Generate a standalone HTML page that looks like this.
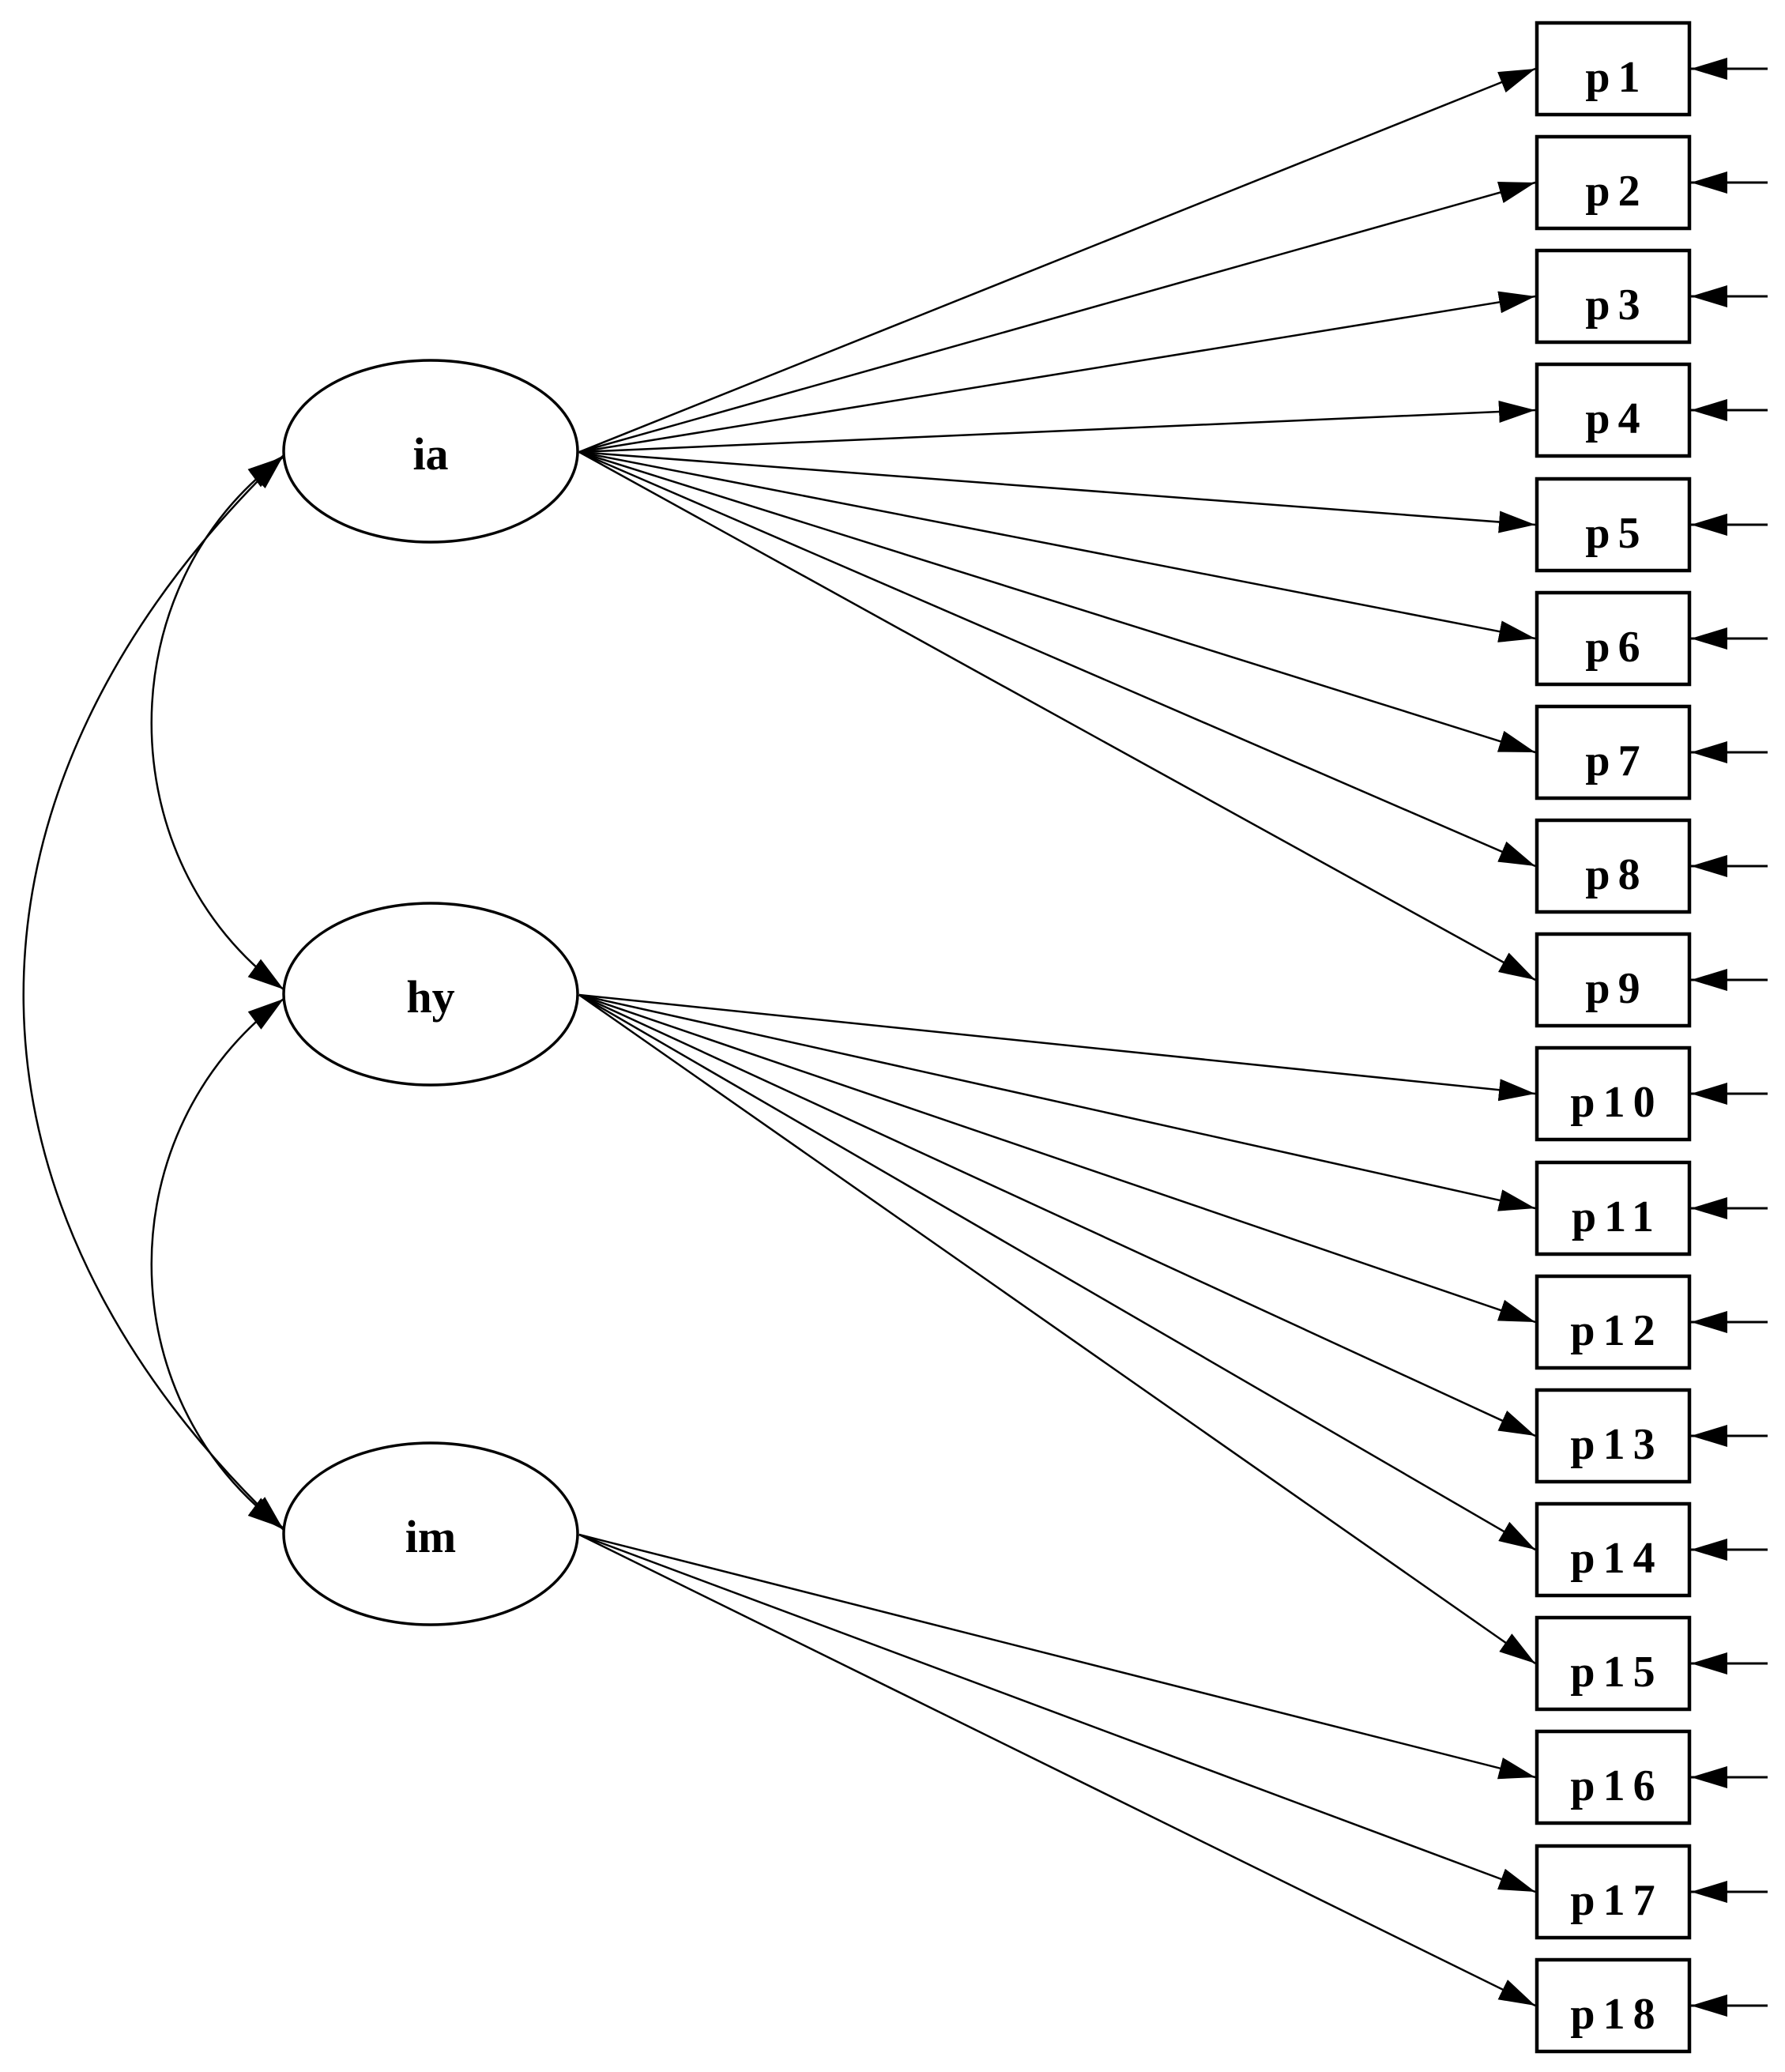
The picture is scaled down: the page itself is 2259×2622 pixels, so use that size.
<!DOCTYPE html>
<html><head><meta charset="utf-8"><style>
html,body{margin:0;padding:0;background:#fff;}
svg{display:block;}
text{font-family:"Liberation Serif",serif;font-weight:bold;fill:#000;}
</style></head><body>
<svg width="2259" height="2622" viewBox="0 0 2259 2622" xmlns="http://www.w3.org/2000/svg">
<defs>
<marker id="ah" markerUnits="userSpaceOnUse" markerWidth="50" markerHeight="30" refX="46" refY="14" orient="auto">
<path d="M0,0 L46,14 L0,28 Z" fill="#000"/>
</marker>
<marker id="as" markerUnits="userSpaceOnUse" markerWidth="50" markerHeight="30" refX="0" refY="14" orient="auto">
<path d="M46,0 L0,14 L46,28 Z" fill="#000"/>
</marker>
</defs>
<g fill="none" stroke="#000" stroke-width="3.5">
<ellipse cx="545" cy="571" rx="186" ry="115"/>
<ellipse cx="545" cy="1258" rx="186" ry="115"/>
<ellipse cx="545" cy="1941" rx="186" ry="115"/>
</g>
<text x="545" y="594" font-size="58" text-anchor="middle">ia</text>
<text x="545" y="1281" font-size="58" text-anchor="middle">hy</text>
<text x="545" y="1964" font-size="58" text-anchor="middle">im</text>
<g fill="none" stroke="#000" stroke-width="2.5">
<path d="M359,576 C-80,1000 -80,1520 359,1936" marker-start="url(#as)" marker-end="url(#ah)"/>
<path d="M359,578 C136,740 136,1090 359,1252" marker-start="url(#as)" marker-end="url(#ah)"/>
<path d="M359,1264 C136,1430 136,1770 359,1934" marker-start="url(#as)" marker-end="url(#ah)"/>
</g>
<g id="edges" stroke="#000" stroke-width="2.5" fill="none">
<line x1="733" y1="572" x2="1943" y2="87" marker-end="url(#ah)"/>
<line x1="733" y1="572" x2="1943" y2="231" marker-end="url(#ah)"/>
<line x1="733" y1="572" x2="1943" y2="375" marker-end="url(#ah)"/>
<line x1="733" y1="572" x2="1943" y2="519" marker-end="url(#ah)"/>
<line x1="733" y1="572" x2="1943" y2="664" marker-end="url(#ah)"/>
<line x1="733" y1="572" x2="1943" y2="808" marker-end="url(#ah)"/>
<line x1="733" y1="572" x2="1943" y2="952" marker-end="url(#ah)"/>
<line x1="733" y1="572" x2="1943" y2="1096" marker-end="url(#ah)"/>
<line x1="733" y1="572" x2="1943" y2="1240" marker-end="url(#ah)"/>
<line x1="733" y1="1259" x2="1943" y2="1384" marker-end="url(#ah)"/>
<line x1="733" y1="1259" x2="1943" y2="1529" marker-end="url(#ah)"/>
<line x1="733" y1="1259" x2="1943" y2="1673" marker-end="url(#ah)"/>
<line x1="733" y1="1259" x2="1943" y2="1817" marker-end="url(#ah)"/>
<line x1="733" y1="1259" x2="1943" y2="1961" marker-end="url(#ah)"/>
<line x1="733" y1="1259" x2="1943" y2="2105" marker-end="url(#ah)"/>
<line x1="733" y1="1942" x2="1943" y2="2249" marker-end="url(#ah)"/>
<line x1="733" y1="1942" x2="1943" y2="2394" marker-end="url(#ah)"/>
<line x1="733" y1="1942" x2="1943" y2="2538" marker-end="url(#ah)"/>
</g>
<g stroke="#000" stroke-width="3" fill="none">
<line x1="2237" y1="87" x2="2140" y2="87" marker-end="url(#ah)"/>
<line x1="2237" y1="231" x2="2140" y2="231" marker-end="url(#ah)"/>
<line x1="2237" y1="375" x2="2140" y2="375" marker-end="url(#ah)"/>
<line x1="2237" y1="519" x2="2140" y2="519" marker-end="url(#ah)"/>
<line x1="2237" y1="664" x2="2140" y2="664" marker-end="url(#ah)"/>
<line x1="2237" y1="808" x2="2140" y2="808" marker-end="url(#ah)"/>
<line x1="2237" y1="952" x2="2140" y2="952" marker-end="url(#ah)"/>
<line x1="2237" y1="1096" x2="2140" y2="1096" marker-end="url(#ah)"/>
<line x1="2237" y1="1240" x2="2140" y2="1240" marker-end="url(#ah)"/>
<line x1="2237" y1="1384" x2="2140" y2="1384" marker-end="url(#ah)"/>
<line x1="2237" y1="1529" x2="2140" y2="1529" marker-end="url(#ah)"/>
<line x1="2237" y1="1673" x2="2140" y2="1673" marker-end="url(#ah)"/>
<line x1="2237" y1="1817" x2="2140" y2="1817" marker-end="url(#ah)"/>
<line x1="2237" y1="1961" x2="2140" y2="1961" marker-end="url(#ah)"/>
<line x1="2237" y1="2105" x2="2140" y2="2105" marker-end="url(#ah)"/>
<line x1="2237" y1="2249" x2="2140" y2="2249" marker-end="url(#ah)"/>
<line x1="2237" y1="2394" x2="2140" y2="2394" marker-end="url(#ah)"/>
<line x1="2237" y1="2538" x2="2140" y2="2538" marker-end="url(#ah)"/>
</g>
<g stroke="#000" stroke-width="4.5" fill="#fff">
<rect x="1945" y="29" width="193" height="116"/>
<rect x="1945" y="173" width="193" height="116"/>
<rect x="1945" y="317" width="193" height="116"/>
<rect x="1945" y="461" width="193" height="116"/>
<rect x="1945" y="606" width="193" height="116"/>
<rect x="1945" y="750" width="193" height="116"/>
<rect x="1945" y="894" width="193" height="116"/>
<rect x="1945" y="1038" width="193" height="116"/>
<rect x="1945" y="1182" width="193" height="116"/>
<rect x="1945" y="1326" width="193" height="116"/>
<rect x="1945" y="1471" width="193" height="116"/>
<rect x="1945" y="1615" width="193" height="116"/>
<rect x="1945" y="1759" width="193" height="116"/>
<rect x="1945" y="1903" width="193" height="116"/>
<rect x="1945" y="2047" width="193" height="116"/>
<rect x="1945" y="2191" width="193" height="116"/>
<rect x="1945" y="2336" width="193" height="116"/>
<rect x="1945" y="2480" width="193" height="116"/>
</g>
<g font-size="56" text-anchor="middle" letter-spacing="10">
<text x="2046" y="116">p1</text>
<text x="2046" y="260">p2</text>
<text x="2046" y="404">p3</text>
<text x="2046" y="548">p4</text>
<text x="2046" y="693">p5</text>
<text x="2046" y="837">p6</text>
<text x="2046" y="981">p7</text>
<text x="2046" y="1125">p8</text>
<text x="2046" y="1269">p9</text>
<text x="2046" y="1413">p10</text>
<text x="2046" y="1558">p11</text>
<text x="2046" y="1702">p12</text>
<text x="2046" y="1846">p13</text>
<text x="2046" y="1990">p14</text>
<text x="2046" y="2134">p15</text>
<text x="2046" y="2278">p16</text>
<text x="2046" y="2423">p17</text>
<text x="2046" y="2567">p18</text>
</g>
</svg>
</body></html>
